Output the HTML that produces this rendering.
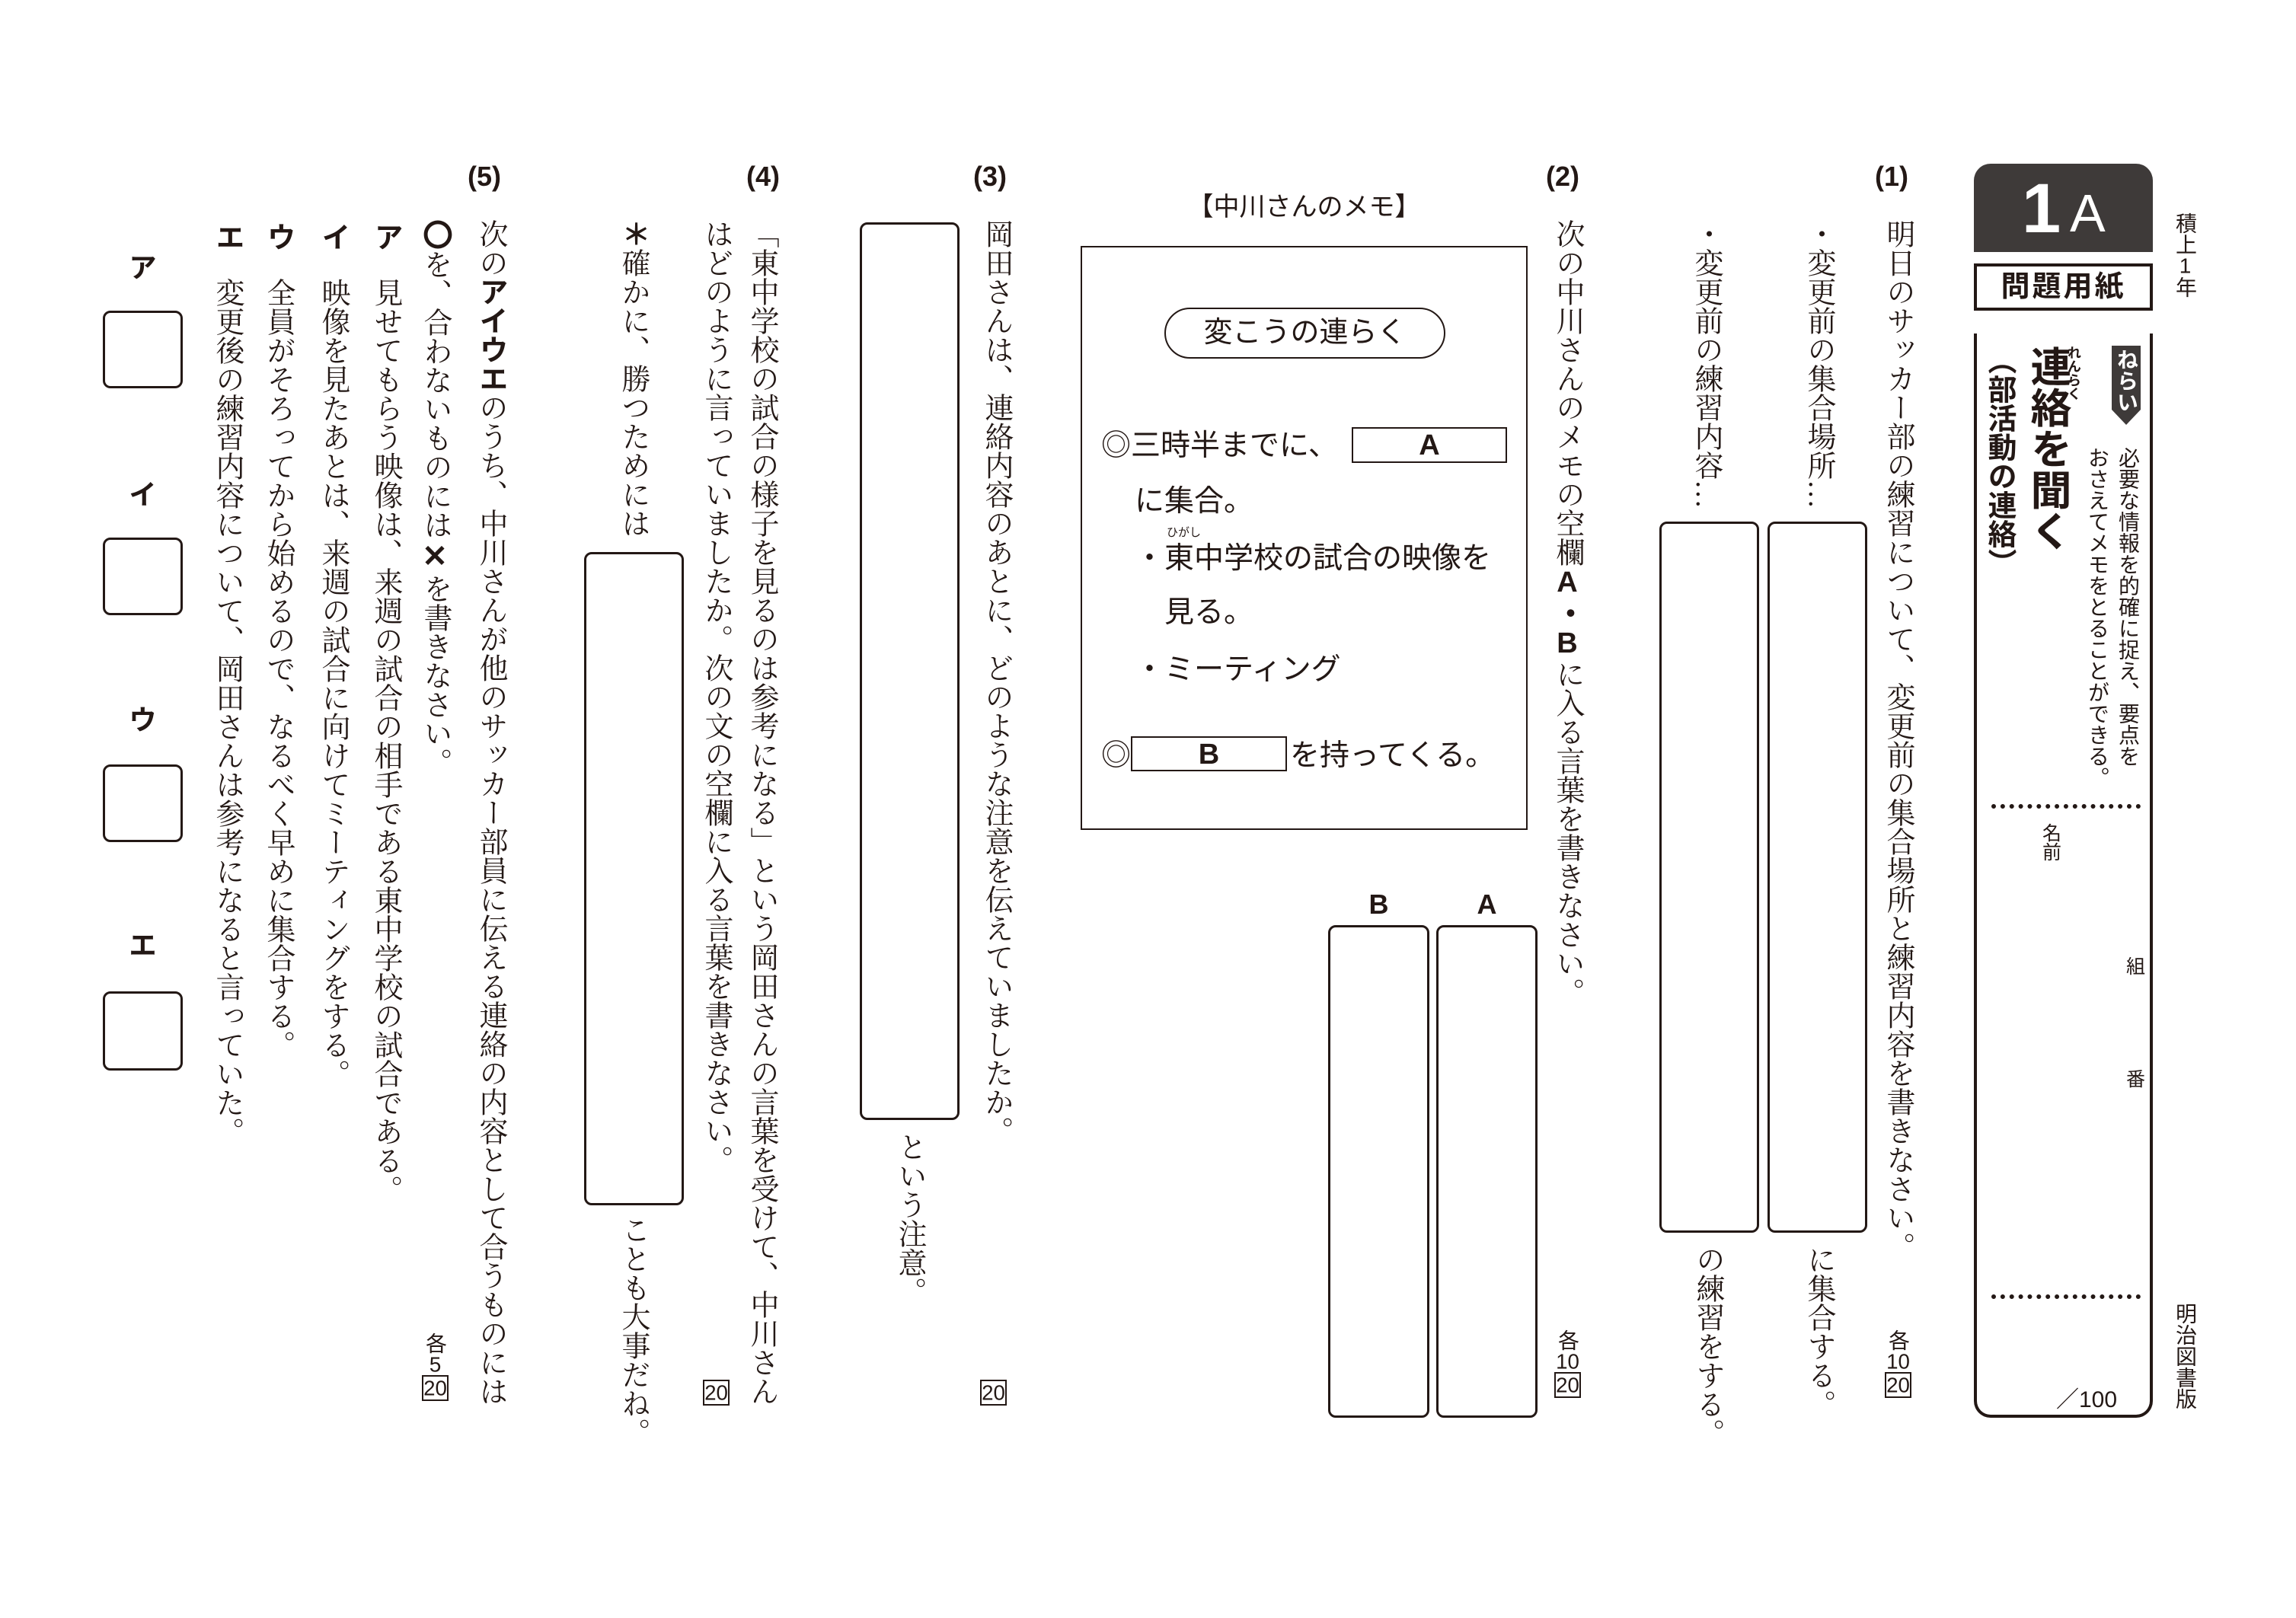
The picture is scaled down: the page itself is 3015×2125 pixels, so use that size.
<!DOCTYPE html>
<html><head><meta charset="utf-8"><style>
body{margin:0;width:3015px;height:2125px;background:#fff;position:relative;overflow:hidden;color:#231815}
.v{position:absolute;writing-mode:vertical-rl;font-family:"Liberation Serif","Noto Serif CJK SC",serif;font-size:38px;line-height:1;white-space:nowrap;transform:translateX(-50%)}
.s{font-family:"Liberation Sans","Noto Sans CJK JP",sans-serif}
.u{text-orientation:upright}
.h{position:absolute;font-family:"Liberation Sans","Noto Sans CJK JP",sans-serif;white-space:nowrap;line-height:1}
.box{position:absolute;border:3px solid #231815;border-radius:10px;box-sizing:border-box}
.sm{font-size:28px}
.b{font-weight:bold}
.dot{position:absolute;border-top:6px dotted #231815;height:0}
.tc{text-combine-upright:all;font-family:"Liberation Sans",sans-serif}
.bx{text-combine-upright:all;font-family:"Liberation Sans",sans-serif;border:2px solid #231815;padding:1px 0}
</style></head><body>

<!-- right header -->
<div style="position:absolute;left:2592px;top:215px;width:235px;height:116px;background:#3e3a39;border-radius:22px 22px 0 0"></div>
<div class="h b" style="left:2655px;top:228px;font-size:92px;color:#fff">1</div>
<div class="h" style="left:2718px;top:245px;font-size:70px;color:#fff">A</div>
<div style="position:absolute;left:2592px;top:346px;width:235px;height:62px;border:4px solid #231815;box-sizing:border-box"></div>
<div class="h b" style="left:2592px;width:235px;text-align:center;top:358px;font-size:38px;letter-spacing:3px">問題用紙</div>
<div style="position:absolute;left:2592px;top:438px;width:235px;height:1424px;border:4px solid #231815;border-top:none;border-radius:0 0 22px 22px;box-sizing:border-box"></div>
<div style="position:absolute;left:2773px;top:454px;width:38px;height:84px;background:#3e3a39"></div>
<div style="position:absolute;left:2773px;top:538px;width:0;height:0;border-left:19px solid transparent;border-right:19px solid transparent;border-top:20px solid #3e3a39"></div>
<div class="v s b" style="left:2792px;top:458px;font-size:28px;color:#fff">ねらい</div>
<div class="v s" style="left:2794px;top:587px;font-size:28px">必要な情報を的確に捉え、要点を</div>
<div class="v s" style="left:2754px;top:587px;font-size:28px">おさえてメモをとることができる。</div>
<div class="v s b" style="left:2723px;top:454px;font-size:18px">れんらく</div>
<div class="v s b" style="left:2688px;top:454px;font-size:54px">連絡を聞く</div>
<div class="v s b" style="left:2625px;top:454px;font-size:38px">（部活動の連絡）</div>
<div class="dot" style="left:2615px;top:1056px;width:196px"></div>
<div class="dot" style="left:2615px;top:1700px;width:196px"></div>
<div class="v s" style="left:2692px;top:1081px;font-size:25px">名前</div>
<div class="v s" style="left:2802px;top:1256px;font-size:25px">組</div>
<div class="v s" style="left:2802px;top:1404px;font-size:25px">番</div>
<div class="h" style="left:2700px;top:1824px;font-size:30px">／100</div>
<div class="v s" style="left:2869px;top:279px;font-size:28px">積上<span class="tc">1</span>年</div>
<div class="v s" style="left:2869px;top:1711px;font-size:28px">明治図書版</div>

<!-- (1) -->
<div class="h b" style="left:2462px;top:214px;font-size:36px">(1)</div>
<div class="v" style="left:2492px;top:288px">明日のサッカー部の練習について、変更前の集合場所と練習内容を書きなさい。</div>
<div class="v" style="left:2388px;top:288px">・変更前の集合場所…</div>
<div class="v" style="left:2240px;top:288px">・変更前の練習内容…</div>
<div class="box" style="left:2321px;top:685px;width:131px;height:934px"></div>
<div class="box" style="left:2179px;top:685px;width:131px;height:934px"></div>
<div class="v" style="left:2388px;top:1635px">に集合する。</div>
<div class="v" style="left:2242px;top:1635px">の練習をする。</div>
<div class="v sm s" style="left:2492px;top:1746px">各<span class="tc">10</span><span class="bx">20</span></div>

<!-- (2) -->
<div class="h b" style="left:2030px;top:214px;font-size:36px">(2)</div>
<div class="v" style="left:2058px;top:288px">次の中川さんのメモの空欄<span class="s b u">A・B</span>に入る言葉を書きなさい。</div>
<div class="v sm s" style="left:2058px;top:1746px">各<span class="tc">10</span><span class="bx">20</span></div>
<div class="h" style="left:1419px;width:587px;text-align:center;top:255px;font-size:34px">【中川さんのメモ】</div>
<div style="position:absolute;left:1419px;top:323px;width:587px;height:767px;border:2px solid #231815;box-sizing:border-box"></div>
<div style="position:absolute;left:1529px;top:404px;width:369px;height:67px;border:2px solid #231815;border-radius:34px;box-sizing:border-box"></div>
<div class="h" style="left:1529px;width:369px;text-align:center;top:418px;font-size:38px">変こうの連らく</div>
<div class="h" style="left:1446px;top:566px;font-size:39px">◎三時半までに、</div>
<div style="position:absolute;left:1775px;top:561px;width:204px;height:47px;border:2px solid #231815;box-sizing:border-box"></div>
<div class="h b" style="left:1775px;width:204px;text-align:center;top:566px;font-size:38px">A</div>
<div class="h" style="left:1490px;top:639px;font-size:39px">に集合。</div>
<div class="h" style="left:1532px;top:692px;font-size:15px">ひがし</div>
<div class="h" style="left:1490px;top:714px;font-size:39px">・東中学校の試合の映像を</div>
<div class="h" style="left:1529px;top:785px;font-size:39px">見る。</div>
<div class="h" style="left:1490px;top:860px;font-size:39px">・ミーティング</div>
<div class="h" style="left:1446px;top:973px;font-size:39px">◎</div>
<div style="position:absolute;left:1485px;top:967px;width:205px;height:46px;border:2px solid #231815;box-sizing:border-box"></div>
<div class="h b" style="left:1485px;width:205px;text-align:center;top:972px;font-size:38px">B</div>
<div class="h" style="left:1694px;top:973px;font-size:39px">を持ってくる。</div>
<div class="h b" style="left:1744px;width:133px;text-align:center;top:1170px;font-size:36px">B</div>
<div class="h b" style="left:1886px;width:133px;text-align:center;top:1170px;font-size:36px">A</div>
<div class="box" style="left:1744px;top:1215px;width:133px;height:647px"></div>
<div class="box" style="left:1886px;top:1215px;width:133px;height:647px"></div>

<!-- (3) -->
<div class="h b" style="left:1278px;top:214px;font-size:36px">(3)</div>
<div class="v" style="left:1308px;top:288px">岡田さんは、連絡内容のあとに、どのような注意を伝えていましたか。</div>
<div class="box" style="left:1129px;top:292px;width:131px;height:1179px"></div>
<div class="v" style="left:1194px;top:1487px">という注意。</div>
<div class="v sm s" style="left:1304px;top:1812px"><span class="bx">20</span></div>

<!-- (4) -->
<div class="h b" style="left:980px;top:214px;font-size:36px">(4)</div>
<div class="v" style="left:1000px;top:288px">「東中学校の試合の様子を見るのは参考になる」という岡田さんの言葉を受けて、中川さん</div>
<div class="v" style="left:940px;top:288px">はどのように言っていましたか。次の文の空欄に入る言葉を書きなさい。</div>
<div class="v sm s" style="left:940px;top:1812px"><span class="bx">20</span></div>
<div class="v" style="left:831px;top:288px"><span class="s b">＊</span>確かに、勝つためには</div>
<div class="box" style="left:767px;top:725px;width:131px;height:858px"></div>
<div class="v" style="left:831px;top:1596px">ことも大事だね。</div>

<!-- (5) -->
<div class="h b" style="left:614px;top:214px;font-size:36px">(5)</div>
<div class="v" style="left:644px;top:288px">次の<span class="s b">アイウエ</span>のうち、中川さんが他のサッカー部員に伝える連絡の内容として合うものには</div>
<div class="v" style="left:571px;top:288px"><span class="s b u" style="font-size:40px">〇</span>を、合わないものには<span class="s b u" style="font-size:40px">✕</span>を書きなさい。</div>
<div class="v sm s" style="left:571px;top:1750px">各<span class="tc">5</span><span class="bx">20</span></div>
<div class="v s b" style="left:506px;top:292px">ア</div>
<div class="v" style="left:506px;top:365px">見せてもらう映像は、来週の試合の相手である東中学校の試合である。</div>
<div class="v s b" style="left:437px;top:292px">イ</div>
<div class="v" style="left:437px;top:365px">映像を見たあとは、来週の試合に向けてミーティングをする。</div>
<div class="v s b" style="left:365px;top:292px">ウ</div>
<div class="v" style="left:365px;top:365px">全員がそろってから始めるので、なるべく早めに集合する。</div>
<div class="v s b" style="left:298px;top:292px">エ</div>
<div class="v" style="left:298px;top:365px">変更後の練習内容について、岡田さんは参考になると言っていた。</div>

<div class="h b" style="left:135px;width:105px;text-align:center;top:334px;font-size:36px">ア</div>
<div class="box" style="left:135px;top:408px;width:105px;height:102px"></div>
<div class="h b" style="left:135px;width:105px;text-align:center;top:632px;font-size:36px">イ</div>
<div class="box" style="left:135px;top:706px;width:105px;height:102px"></div>
<div class="h b" style="left:135px;width:105px;text-align:center;top:928px;font-size:36px">ウ</div>
<div class="box" style="left:135px;top:1004px;width:105px;height:102px"></div>
<div class="h b" style="left:135px;width:105px;text-align:center;top:1224px;font-size:36px">エ</div>
<div class="box" style="left:135px;top:1302px;width:105px;height:104px"></div>
</body></html>
